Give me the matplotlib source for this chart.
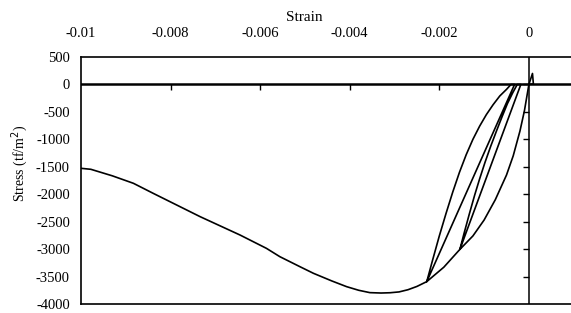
import numpy as np
import matplotlib
matplotlib.use("Agg")
import matplotlib.pyplot as plt

plt.rcParams['font.family'] = ['Liberation Serif', 'DejaVu Serif']
plt.rcParams['axes.unicode_minus'] = False

# tension spike at the start
spike_strain = [0.0, 0.00008, 0.0001, 0.0]
spike_stress = [0, 200, 10, 0]

# envelope from the origin to the first reversal point
env1_strain = [0.0, -0.0001, -0.0002, -0.00035, -0.0005, -0.00075, -0.001, -0.00125, -0.00154]
env1_stress = [0, -480, -850, -1300, -1650, -2100, -2470, -2760, -3004]

# unloading from the first reversal and reloading line
unl1_strain = [-0.00154, -0.00145, -0.00133, -0.00121, -0.0011, -0.00098, -0.00085,
               -0.00072, -0.0006, -0.00048, -0.00036, -0.00026, -0.00018]
unl1_stress = [-3004, -2720, -2360, -2014, -1720, -1420, -1120,
               -840, -590, -350, -150, 0, 0]

# envelope between the two reversal points
env2_strain = [-0.00154, -0.0019, -0.00228]
env2_stress = [-3004, -3330, -3592]

# unloading from the second reversal and reloading line
unl2_strain = [-0.00228, -0.00215, -0.002, -0.00185, -0.0017, -0.00155, -0.0014, -0.00125,
               -0.0011, -0.00095, -0.0008, -0.00065, -0.0005, -0.0004, -0.00032]
unl2_stress = [-3592, -3200, -2760, -2350, -1960, -1600, -1280, -1000,
               -760, -550, -370, -210, -90, 0, 0]

# envelope after the second reversal to the end of the test
env3_strain = [-0.00228, -0.0025, -0.0027, -0.0029, -0.0031, -0.0033, -0.00355, -0.0038,
               -0.00407, -0.0044, -0.00481, -0.00511, -0.00556, -0.00586, -0.00645,
               -0.00734, -0.00839, -0.00883, -0.0093, -0.00978, -0.01]
env3_stress = [-3592, -3680, -3740, -3780, -3795, -3800, -3793, -3750,
               -3684, -3580, -3441, -3321, -3138, -2986, -2743,
               -2409, -1983, -1801, -1665, -1546, -1528]

strain = np.concatenate([spike_strain, env1_strain, unl1_strain, env1_strain[-1:],
                         env2_strain, unl2_strain, env2_strain[-1:], env3_strain])
stress = np.concatenate([spike_stress, env1_stress, unl1_stress, env1_stress[-1:],
                         env2_stress, unl2_stress, env2_stress[-1:], env3_stress])

x_ticks = [-0.01, -0.008, -0.006, -0.004, -0.002, 0]
x_labels = ['-0.01', '-0.008', '-0.006', '-0.004', '-0.002', '0']
y_ticks = [500, 0, -500, -1000, -1500, -2000, -2500, -3000, -3500, -4000]

fig = plt.figure(figsize=(5.71, 3.13), dpi=100)
ax = fig.add_axes([81 / 571, 1 - 304 / 313, 490 / 571, 247 / 313])

ax.plot(strain, stress, color='black', lw=1.2)

ax.set_xlim(-0.01, 0.00094)
ax.set_ylim(-4000, 500)

# axis lines crossing at the origin
ax.axhline(0, color='black', lw=1.8)
ax.axvline(0, color='black', lw=1.1)
ax.plot(x_ticks[1:-1], [0] * 4, ls='none', marker=3, ms=4, mew=1, color='black')
ax.plot([0] * (len(y_ticks) - 2), y_ticks[1:-1], ls='none', marker=0, ms=4, mew=1, color='black')

ax.xaxis.tick_top()
ax.xaxis.set_label_position('top')
ax.set_xticks(x_ticks)
ax.set_xticklabels(x_labels)
ax.set_yticks(y_ticks)
ax.tick_params(axis='both', length=0, labelsize=10.5)
ax.tick_params(axis='x', pad=12.5)
ax.tick_params(axis='y', pad=8)

ax.spines['right'].set_visible(False)
for s in ['left', 'top', 'bottom']:
    ax.spines[s].set_linewidth(1.2)

ax.set_xlabel('Strain', fontsize=11)
ax.xaxis.set_label_coords(0.455, 1.145)
ax.set_ylabel('Stress (tf/m$^2$)', fontsize=10)
ax.yaxis.set_label_coords(-0.104, 0.567)

fig.savefig('out.png', dpi=100)
